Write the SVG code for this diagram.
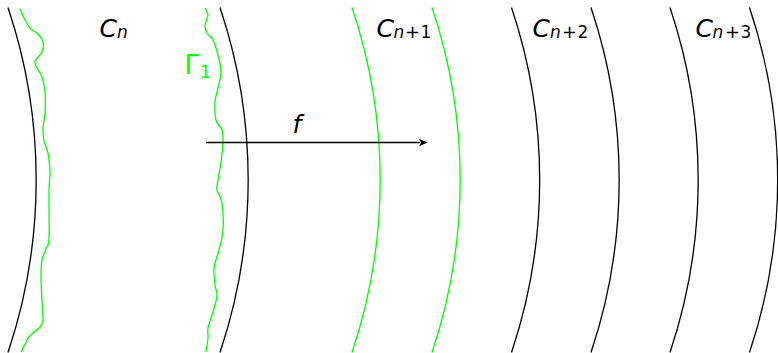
<svg xmlns="http://www.w3.org/2000/svg" width="778" height="353" viewBox="0 0 778 353">
<style>
.bk{fill:none;stroke:#000;stroke-width:1.3}
.gr{fill:none;stroke:#00ff00;stroke-width:1.3}
.lbl{font-family:"DejaVu Sans","Liberation Sans",sans-serif;fill:#000}
.it{font-style:italic}
.big{font-size:25px}
.sub{font-size:17px}
.op{font-size:18px}
</style>
<defs>
<marker id="ah" markerWidth="10" markerHeight="9" refX="1" refY="4.5" orient="auto" markerUnits="userSpaceOnUse">
<path d="M0,0.8 L8.5,4.5 L0,8.2 L2,4.5 Z" fill="#000"/>
</marker>
</defs>
<rect width="778" height="353" fill="#fff"/>
<g id="curves">
<path class="bk" d="M8,7.5 A542,542 0 0 1 8,352.5"/>
<path class="bk" d="M220,7.5 A542,542 0 0 1 220,352.5"/>
<path class="gr" d="M352,7.5 A542,542 0 0 1 352,352.5"/>
<path class="gr" d="M432,7.5 A542,542 0 0 1 432,352.5"/>
<path class="bk" d="M511.5,7.5 A542,542 0 0 1 511.5,352.5"/>
<path class="bk" d="M591,7.5 A542,542 0 0 1 591,352.5"/>
<path class="bk" d="M670,7.5 A542,542 0 0 1 670,352.5"/>
<path class="bk" d="M749.5,7.5 A542,542 0 0 1 749.5,352.5"/>
<path class="gr" d="M20,9 C21.5,11.5 23.2,16.7 25,20 S28.8,26.7 31,29 S36,31.8 38,34 S42.3,39 43,42 S43.3,48.8 42,52 S35.8,58.3 35,61 S35.8,65.3 37,68 S40.7,73 42,77 S44.5,86 45,92 S45.3,107 45,113 S43.2,123.3 43,128 S43.2,136.8 44,141 S47,147.8 48,153 S49.8,165.8 50,172 S49.2,179 49,190 S49.5,228.2 49,238 S47.2,245.3 46,249 S42.8,255.5 42,260 S41,269 41,276 S41.7,294.7 42,302 S43.3,315.8 43,320 S41.7,324.8 40,327 S35.2,330.8 33,333 S28,336.8 27,340 S23,348 21,352"/>
<path class="gr" d="M205,8 C205.5,9.2 208,12.2 208,15 S205.2,22 205,25 S205.7,30.5 207,33 S211.2,36.3 213,40 S216.7,49.7 218,55 S221,66.5 221,72 S219,83 218,88 S215.3,96.7 215,102 S214.8,115.3 216,120 S220.8,126.3 222,130 S223.2,136.7 223,142 S221.8,155.7 221,162 S218.7,175.3 218,180 S216.3,186.2 217,190 S221,196.3 222,203 S223.5,222.2 223,230 S220.5,243.7 219,250 S214.7,262.2 214,268 S214.5,280.3 215,285 S217.5,291 217,296 S213.5,309.7 212,315 S208.7,324.2 208,328 S208.3,334 208,338 S206.7,347.3 206,352"/>
</g>
<g id="connectors">
<line x1="206" y1="142.5" x2="420" y2="142.5" stroke="#000" stroke-width="1.3" marker-end="url(#ah)"/>
</g>
<g id="label-f">
<text class="lbl it" x="292.5" y="133" font-size="25">f</text>
</g>
<g id="label-Cn">
<text class="lbl"><tspan class="it big" x="99.5" y="36.5">C</tspan><tspan class="it sub" x="117" y="38.3">n</tspan></text>
</g>
<g id="label-Cn1">
<text class="lbl"><tspan class="it big" x="376.5" y="37">C</tspan><tspan class="it sub" x="393.5" y="38.3">n</tspan><tspan class="op" x="405" y="38.3">+</tspan><tspan class="sub" x="420.5" y="38.3">1</tspan></text>
</g>
<g id="label-Cn2">
<text class="lbl"><tspan class="it big" x="532.5" y="37">C</tspan><tspan class="it sub" x="550" y="38.3">n</tspan><tspan class="op" x="562" y="38.3">+</tspan><tspan class="sub" x="577.5" y="38.3">2</tspan></text>
</g>
<g id="label-Cn3">
<text class="lbl"><tspan class="it big" x="695.5" y="37">C</tspan><tspan class="it sub" x="712.5" y="38.3">n</tspan><tspan class="op" x="725" y="38.3">+</tspan><tspan class="sub" x="740.5" y="38.3">3</tspan></text>
</g>
<g id="label-Gamma1">
<text class="lbl" style="fill:#00ff00"><tspan font-size="26" x="184.5" y="74">Γ</tspan><tspan class="sub" x="200" y="78.3">1</tspan></text>
</g>
</svg>
